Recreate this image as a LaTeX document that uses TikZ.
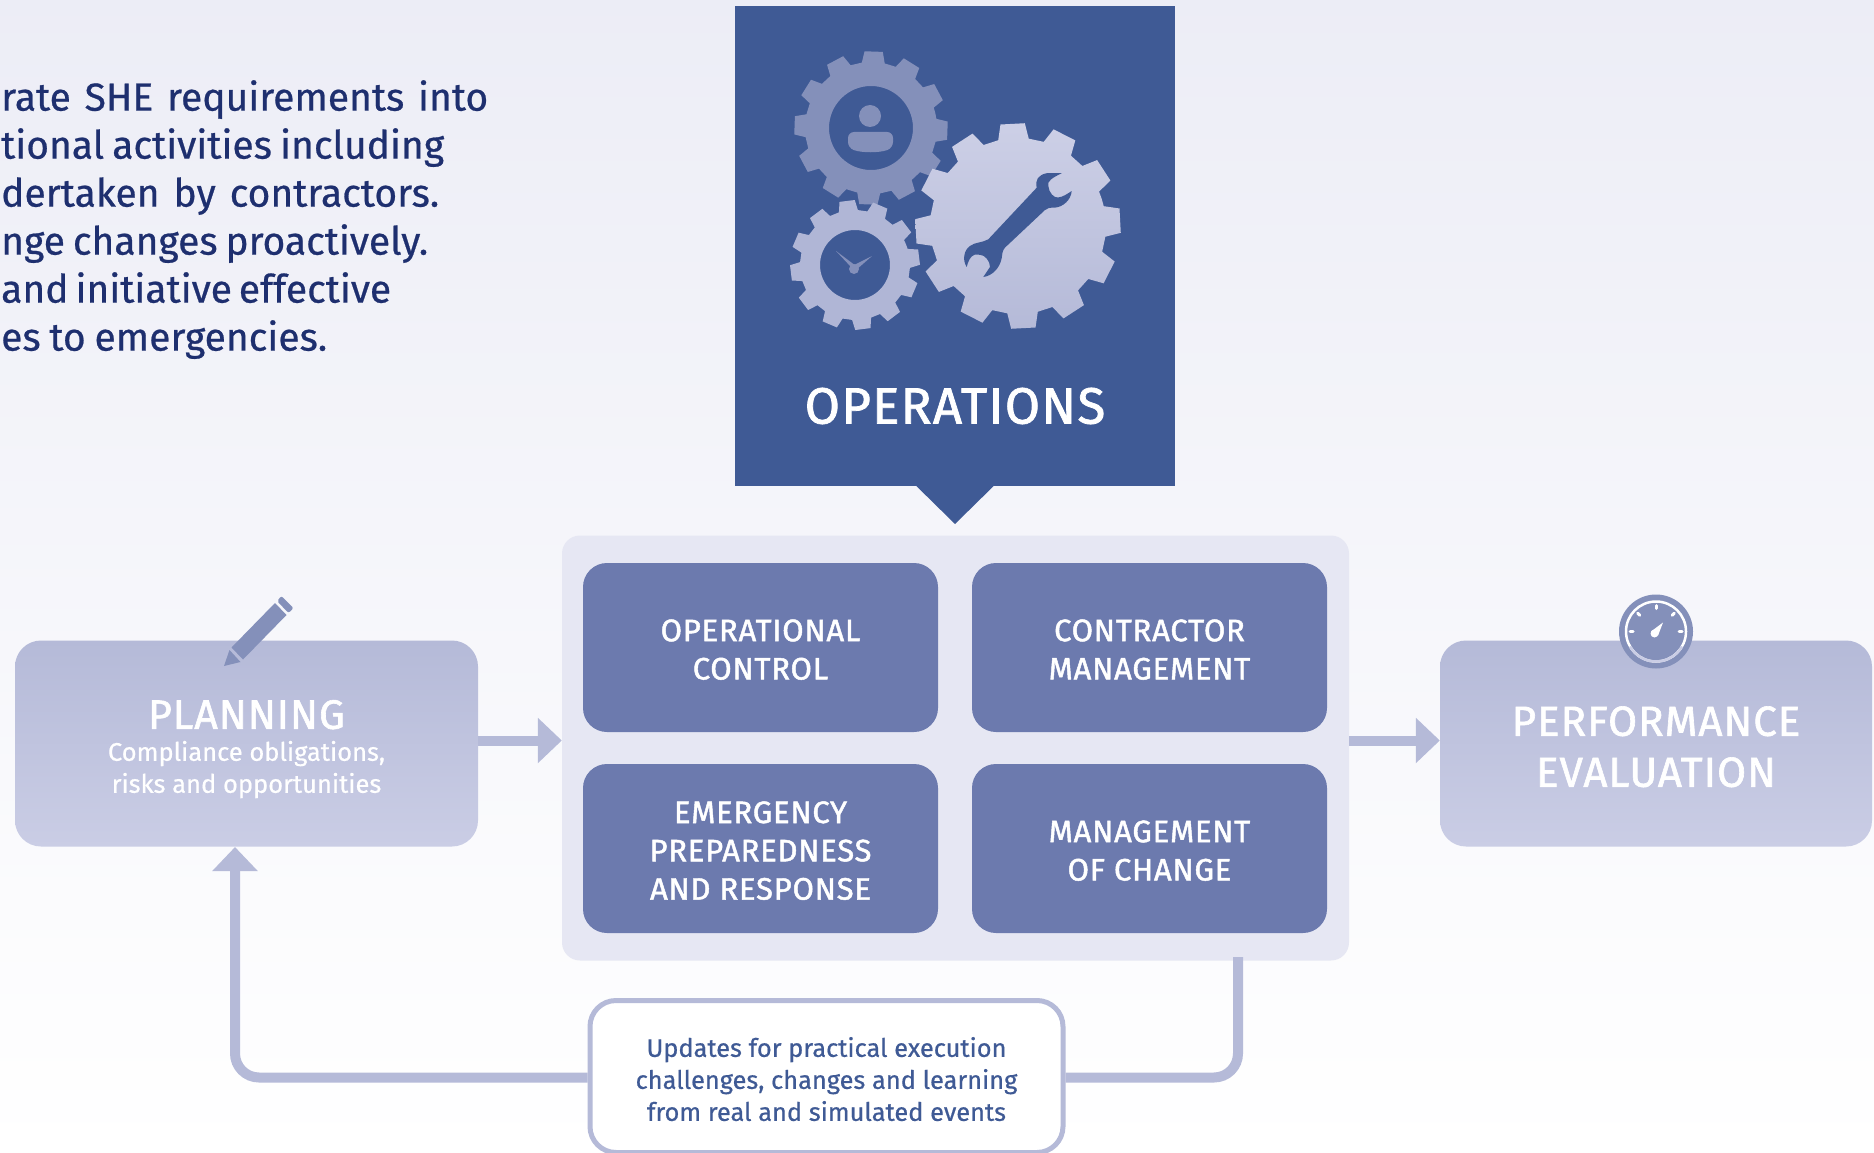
\documentclass[tikz,border=0pt]{standalone}
\usepackage{fontspec}
\setmainfont[FakeBold=0.6]{Fira Sans}
\newfontfamily\medfont[FakeBold=1.5,LetterSpace=2.5]{Fira Sans}
\usepackage{xcolor}
\usetikzlibrary{arrows.meta}
\usetikzlibrary{calc}
\definecolor{opsblue}{RGB}{63, 90, 149}
\definecolor{boxblue}{RGB}{108, 122, 174}
\definecolor{panelgrey}{RGB}{230, 231, 243}
\definecolor{softtop}{RGB}{181, 186, 216}
\definecolor{softbot}{RGB}{202, 205, 229}
\definecolor{gearmid}{RGB}{132, 144, 186}
\definecolor{gearpale}{RGB}{176, 182, 214}
\definecolor{inkblue}{RGB}{30, 47, 111}
\tikzset{
  innerbox/.style={fill=boxblue,rounded corners=24pt,minimum width=355pt,minimum height=169pt,
    text=white,align=center,font=\medfont\fontsize{31}{38.3}\selectfont},
  softbox/.style={top color=softtop,bottom color=softbot,rounded corners=26pt,minimum height=206pt,
    text=white,align=center},
  flow/.style={softtop,line width=10pt},
  flowhead/.style={flow,-{Triangle[length=24pt,width=44pt]}},
  gaugetick/.style={white,line width=3pt,line cap=round},
}
% tall first line, pushes the text of a box down
\newcommand{\droptext}[1]{\rule{0pt}{#1pt}}
% one line of the intro, set to a given width
\newcommand{\introline}[2]{\makebox[#1pt][s]{#2}}
% one toothed wheel, drawn round the origin: outer, root, first angle
\newcommand{\wheelpath}[3]{
  (#3-15:#2) \foreach \t in {0,30,...,330}{
    -- (#3+\t-10:#2) -- (#3+\t-6.8:#1) -- (#3+\t+6.8:#1) -- (#3+\t+10:#2)
  } -- cycle
}
\begin{document}
\begin{tikzpicture}[x=1pt,y=-1pt]
\useasboundingbox (0,0) rectangle (1874,1153);
\shade[top color=panelgrey!75!white,bottom color=white] (0,0) rectangle (1874,1153);

% intro text
\node[anchor=north west,inner sep=0pt,text=inkblue,align=left,font=\fontsize{39}{48}\selectfont] (intro) at (1,80)
  {\introline{487}{rate SHE requirements into}\\\introline{443}{tional activities including}\\\introline{438}{dertaken by contractors.}\\\introline{427}{nge changes proactively.}\\\introline{388}{and initiative effective}\\\introline{326}{es to emergencies.}};

% operations banner
\node[fill=opsblue,minimum width=440pt,minimum height=479.5pt] (ops) at (955,245.75) {};
\coordinate (opstip) at (955,524);
\fill[opsblue] ($(ops.south)+(-39,0)$) -- (opstip) -- ($(ops.south)+(39,0)$) -- cycle;
\node[text=white,font=\medfont\fontsize{51}{51}\selectfont] (opstitle) at (955,406) {OPERATIONS};

% person wheel
\begin{scope}[shift={(871,128)}]
\fill[gearmid,even odd rule] \wheelpath{77}{66}{2} (0,0) circle (42);
\fill[gearmid] (-1,-12) circle (11);
\fill[gearmid,rounded corners=6pt] (-23,4) -- (22,4) -- (22,20) .. controls (8,25) and (-9,25) .. (-23,20) -- cycle;
\end{scope}
% clock wheel
\begin{scope}[shift={(855,265)}]
\fill[gearpale,even odd rule] \wheelpath{65}{55}{-7} (0,0) circle (35);
\fill[gearmid] (-1,4) circle (5);
\fill[gearmid] (-19,-14) -- (-4,2) -- (1,1) -- cycle;
\fill[gearmid] (17,-9) -- (-3,1) -- (1,5) -- cycle;
\end{scope}
% wrench wheel
\begin{scope}[shift={(1018,226)}]
\shade[top color=softbot!95!white,bottom color=softtop] \wheelpath{103}{88}{-3};
\end{scope}
\fill[opsblue] (988.3,239.3) -- (1036.7,187.7) .. controls (1035,180) and (1038,175) .. (1046.7,173.2)
  -- (1061.7,173.2) .. controls (1052,178) and (1047,181) .. (1048.3,186)
  .. controls (1049,193) and (1054,198) .. (1058,197.5) .. controls (1063,197) and (1067,194) .. (1071.7,191)
  .. controls (1071,200) and (1063,207) .. (1055,207.6) .. controls (1050,207.6) and (1047,208) .. (1045,210)
  -- (1006.7,246) .. controls (1001,251) and (1003,254) .. (1001.7,258)
  .. controls (1000,268) and (992,276) .. (983.3,277) .. controls (986,273) and (988,270) .. (990,266.9)
  .. controls (990,261) and (985,255) .. (980,254.8) -- (975,254.5) .. controls (970,256) and (968,262) .. (966.7,266.9)
  .. controls (962,260) and (964,250) .. (970,246) .. controls (975,242) and (982,243) .. (988.3,239.3) -- cycle;

% centre panel
\node[fill=panelgrey,rounded corners=18pt,minimum width=787pt,minimum height=425pt] (panel) at (955.5,748) {};
\node[innerbox] (opctrl) at (760.5,647.5) {\droptext{26}OPERATIONAL\\CONTROL};
\node[innerbox] (contr) at (1149.5,647.5) {\droptext{26}CONTRACTOR\\MANAGEMENT};
\node[innerbox] (emerg) at (760.5,848.5) {\droptext{26}EMERGENCY\\PREPAREDNESS\\AND RESPONSE};
\node[innerbox] (moc) at (1149.5,848.5) {\droptext{26}MANAGEMENT\\OF CHANGE};

% side boxes
\node[softbox,minimum width=463pt,font=\fontsize{25.5}{32}\selectfont] (plan) at (246.5,743.5)
  {\droptext{40}{\medfont\fontsize{41}{37}\selectfont PLANNING}\\Compliance obligations,\\risks and opportunities};
\node[softbox,minimum width=432pt,font=\medfont\fontsize{42}{51}\selectfont] (perf) at (1656,743.5)
  {\droptext{36}PERFORMANCE\\EVALUATION};

% pencil
\fill[gearmid] (224,666) -- (229.5,650) -- (240.5,662) -- cycle;
\fill[gearmid] (231.5,647.5) -- (243,659.5) -- (286.5,615) -- (275,603) -- cycle;
\fill[gearmid,rounded corners=2pt] (277,601) -- (288.5,613) -- (293.5,608) -- (281.5,596) -- cycle;

% gauge
\fill[gearmid] (1656,631.5) circle (37);
\draw[white,line width=2.5pt] (1656,631.5) circle (30);
\draw[softbot,line width=2.5pt] (1656,631.5) ++(30:30) arc[start angle=30,end angle=150,radius=30];
\foreach \a in {180,225,270,315,360}{
  \draw[gaugetick] ($(1656,631.5)+(\a:23)$) -- ($(1656,631.5)+(\a:26)$);
}
\fill[white] (1654.5,633.5) circle (4);
\fill[white] (1651,631.5) -- (1663,622.5) -- (1658,635.5) -- cycle;

% flows
\coordinate (flowy) at (0,740.5);
\draw[flowhead] (plan.east |- flowy) -- (panel.west |- flowy);
\draw[flowhead] (panel.east |- flowy) -- (perf.west |- flowy);

\node[draw=softtop,line width=5pt,fill=white,rounded corners=26pt,minimum width=473pt,minimum height=152pt,
  text=opsblue,align=center,font=\fontsize{25.4}{32}\selectfont] (updates) at (826.5,1076.5)
  {\droptext{25}Updates for practical execution\\challenges, changes and learning\\from real and simulated events};
\coordinate (loopy) at (0,1077.5);
\coordinate (loopin) at (235,847);
\coordinate (loopout) at (1238,957);
\draw[flowhead,rounded corners=24pt] (updates.west |- loopy) -- (loopin |- loopy) -- (loopin);
\draw[flow,rounded corners=24pt] (updates.east |- loopy) -- (loopout |- loopy) -- (loopout);

\end{tikzpicture}
\end{document}
